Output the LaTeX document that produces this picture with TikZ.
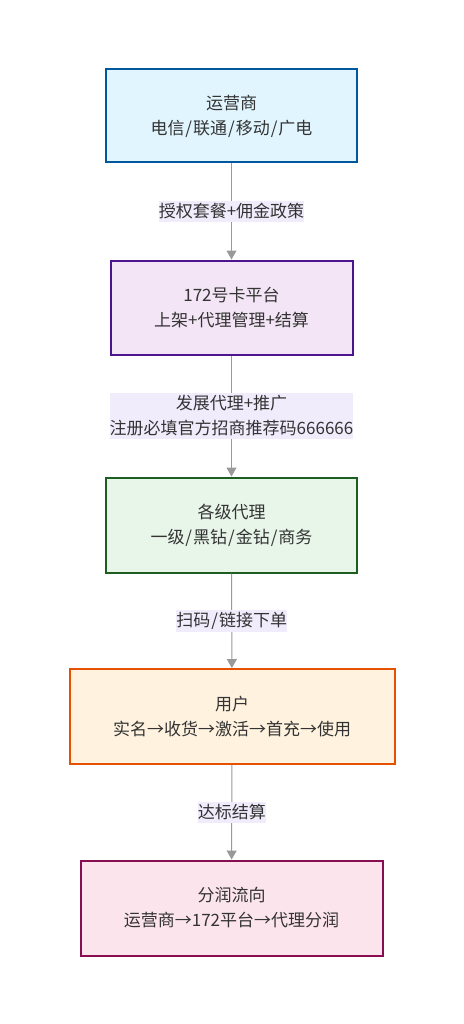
\documentclass[tikz,border=0pt]{standalone}
\usepackage{fontspec}
\setmainfont{Noto Sans CJK SC}
\usetikzlibrary{arrows.meta}
\definecolor{txt}{HTML}{333333}
\definecolor{edgec}{HTML}{999999}
\definecolor{lblbg}{HTML}{F1ECFC}
\definecolor{f1}{HTML}{E1F5FE}\definecolor{s1}{HTML}{01579B}
\definecolor{f2}{HTML}{F3E5F5}\definecolor{s2}{HTML}{4A148C}
\definecolor{f3}{HTML}{E8F5E9}\definecolor{s3}{HTML}{1B5E20}
\definecolor{f4}{HTML}{FFF3E0}\definecolor{s4}{HTML}{E65100}
\definecolor{f5}{HTML}{FCE4EC}\definecolor{s5}{HTML}{880E4F}
\newcommand{\myslash}{\kern1pt/\kern1pt}
\begin{document}
\begin{tikzpicture}[x=1pt,y=-1pt,
  box/.style={rectangle, line width=2pt, inner sep=0pt, align=center, text=txt,
    font=\fontsize{17}{25}\selectfont},
  lbl/.style={rectangle, fill=lblbg, inner xsep=0pt, inner ysep=2.5pt, align=center,
    text=txt, font=\fontsize{17}{25}\selectfont},
  edge/.style={draw=edgec, line width=1pt, -{Triangle[length=9pt,width=10pt,fill=edgec]}}]
\useasboundingbox (0,0) rectangle (463,1024);
\fill[white] (0,0) rectangle (463,1024);
\node[box, draw=s1, fill=f1, minimum width=251pt, minimum height=93pt] (n1) at (231.5,116) {运营商\\电信\myslash 联通\myslash 移动\myslash 广电};
\node[box, draw=s2, fill=f2, minimum width=242pt, minimum height=94pt] (n2) at (231.5,307.5) {172号卡平台\\上架+代理管理+结算};
\node[box, draw=s3, fill=f3, minimum width=251pt, minimum height=95pt] (n3) at (231.5,525) {各级代理\\一级\myslash 黑钻\myslash 金钻\myslash 商务};
\node[box, draw=s4, fill=f4, minimum width=325pt, minimum height=95pt] (n4) at (232,716.5) {用户\\实名→收货→激活→首充→使用};
\node[box, draw=s5, fill=f5, minimum width=302pt, minimum height=95pt] (n5) at (231.5,908) {分润流向\\运营商→172平台→代理分润};
\draw[edge] (n1) -- node[lbl] (l1) {授权套餐+佣金政策} (n2);
\draw[edge] (n2) -- node[lbl] (l2) {发展代理+推广\\注册必填官方招商推荐码666666} (n3);
\draw[edge] (n3) -- node[lbl] (l3) {扫码\myslash 链接下单} (n4);
\draw[edge] (n4) -- node[lbl] (l4) {达标结算} (n5);
\end{tikzpicture}
\end{document}
